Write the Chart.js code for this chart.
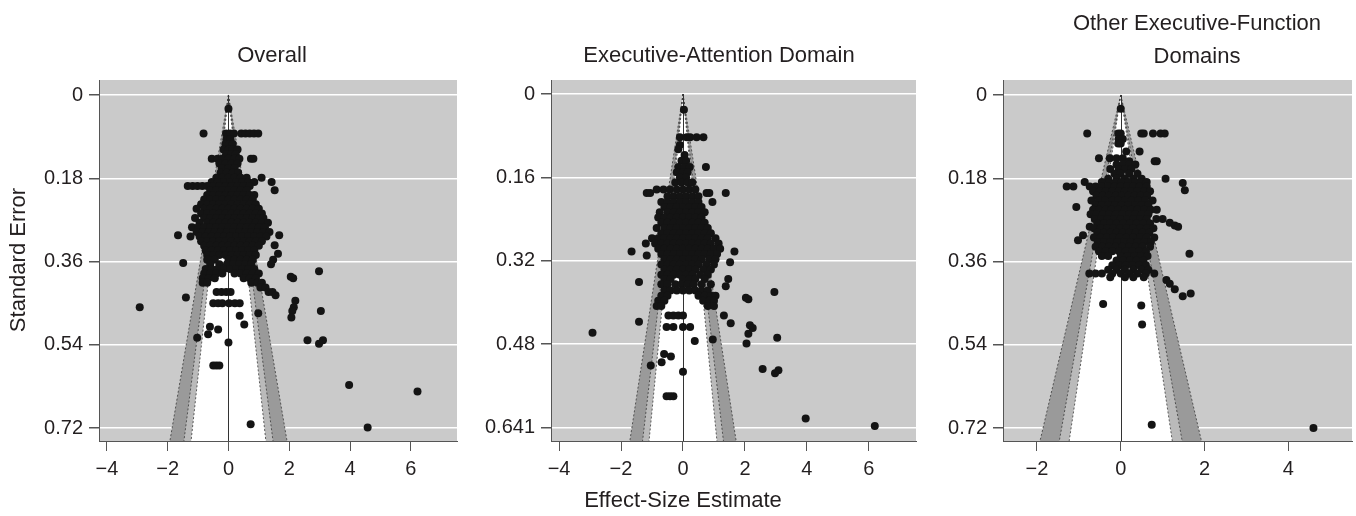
<!DOCTYPE html>
<html>
<head>
<meta charset="utf-8">
<script src="https://cdn.jsdelivr.net/npm/chart.js@4.4.1/dist/chart.umd.min.js"></script>
<style>
body{margin:0;width:1356px;height:516px;background:#fff;position:relative;overflow:hidden;font-family:"Liberation Sans",Arial,sans-serif;color:#231f20}
canvas{position:absolute;top:0}
.t{position:absolute;font-size:22px;text-align:center;width:400px;line-height:26px}
</style>
</head>
<body>
<canvas id="c1" width="470" height="516" style="left:0"></canvas>
<canvas id="c2" width="465" height="516" style="left:460px"></canvas>
<canvas id="c3" width="441" height="516" style="left:915px"></canvas>

<div class="t" style="left:72px;top:42px">Overall</div>
<div class="t" style="left:519px;top:42px">Executive-Attention Domain</div>
<div class="t" style="left:997px;top:6px;line-height:33px">Other Executive-Function<br>Domains</div>
<div class="t" style="left:-182px;top:247px;transform:rotate(-90deg)">Standard Error</div>
<div class="t" style="left:483px;top:487px">Effect-Size Estimate</div>

<script>
// rows: [standard error, effect sizes at that SE...]
const overallRows = [
  [0.030, 0],
  [0.083, -0.82, -0.08, 0.05, 0.18, 0.42, 0.56, 0.7, 0.84, 0.98],
  [0.095, -0.06, 0.06],
  [0.106, -0.1, 0.04, 0.14],
  [0.118, -0.16, 0.0, 0.14, 0.3],
  [0.128, -0.08, 0.1, 0.24],
  [0.138, -0.55, -0.36, -0.2, 0.0, 0.2, 0.36, 0.74, 0.82],
  [0.148, -0.3, -0.1, 0.1, 0.3],
  [0.158, -0.22, 0.0, 0.2],
  [0.168, -0.26, -0.06, 0.14, 0.32],
  [0.179, -0.4, -0.2, 0.0, 0.2, 0.4, 0.6, 1.09],
  [0.188, -0.55, -0.35, -0.15, 0.05, 0.25, 0.45, 0.65, 0.85, 1.42],
  [0.197, -1.34, -1.18, -1.02, -0.86, -0.7, -0.5, -0.3, -0.1, 0.1, 0.3, 0.5, 0.7],
  [0.206, -0.6, -0.4, -0.2, 0.0, 0.2, 0.4, 0.6, 1.52],
  [0.216, -0.7, -0.5, -0.3, -0.1, 0.1, 0.3, 0.5, 0.7, 0.85],
  [0.226, -0.8, -0.6, -0.4, -0.2, 0.0, 0.2, 0.4, 0.6, 0.8],
  [0.236, -0.9, -0.7, -0.5, -0.3, -0.1, 0.1, 0.3, 0.5, 0.7, 0.9],
  [0.246, -1.05, -0.8, -0.6, -0.4, -0.2, 0.0, 0.2, 0.4, 0.6, 0.8, 1.0],
  [0.256, -0.9, -0.7, -0.5, -0.3, -0.1, 0.1, 0.3, 0.5, 0.7, 0.9, 1.1],
  [0.266, -1.1, -0.8, -0.6, -0.4, -0.2, 0.0, 0.2, 0.4, 0.6, 0.8, 1.0, 1.15],
  [0.276, -0.95, -0.7, -0.5, -0.3, -0.1, 0.1, 0.3, 0.5, 0.7, 0.9, 1.1, 1.3],
  [0.286, -1.2, -1.0, -0.8, -0.6, -0.4, -0.2, 0.0, 0.2, 0.4, 0.6, 0.8, 1.0, 1.2],
  [0.296, -1.05, -0.85, -0.65, -0.45, -0.25, -0.05, 0.15, 0.35, 0.55, 0.75, 0.95, 1.15, 1.35],
  [0.303, -1.66, 1.67],
  [0.306, -1.25, -0.95, -0.75, -0.55, -0.35, -0.15, 0.05, 0.25, 0.45, 0.65, 0.85, 1.05, 1.25],
  [0.316, -0.9, -0.7, -0.5, -0.3, -0.1, 0.1, 0.3, 0.5, 0.7, 0.9, 1.1],
  [0.325, 1.52],
  [0.326, -0.8, -0.6, -0.4, -0.2, 0.0, 0.2, 0.4, 0.6, 0.8, 1.0],
  [0.336, -0.75, -0.55, -0.35, -0.15, 0.05, 0.25, 0.45, 0.65, 0.85],
  [0.343, 1.63],
  [0.346, -0.7, -0.5, -0.3, -0.1, 0.1, 0.3, 0.5, 0.7, 0.9],
  [0.356, -0.7, -0.45, 0.0, 0.2, 0.4, 0.6, 0.8, 1.47],
  [0.363, -1.49],
  [0.366, -0.6, -0.3, -0.05, 0.15, 0.35, 0.55, 0.75, 1.4],
  [0.376, -0.75, -0.55, -0.35, -0.15, 0.05, 0.25, 0.45, 0.65, 0.85],
  [0.381, 2.98],
  [0.386, -0.8, -0.6, -0.4, -0.2, 0.2, 0.4, 0.6, 0.8, 1.0],
  [0.393, 2.05],
  [0.396, -0.85, -0.65, -0.45, 0.5, 0.7, 0.9, 2.13],
  [0.406, -0.85, -0.7, 0.75, 0.95, 1.1],
  [0.416, 1.05, 1.22],
  [0.426, -0.39, -0.23, -0.07, 0.07, 1.32, 1.45],
  [0.433, 1.55],
  [0.438, -1.40],
  [0.445, 2.2],
  [0.450, -0.5, -0.34, -0.2, 0.02, 0.21, 0.37],
  [0.459, -2.92, 2.15],
  [0.467, 2.1, 3.04],
  [0.472, 0.98],
  [0.477, 0.37],
  [0.481, 2.07],
  [0.496, 0.52],
  [0.501, -0.61],
  [0.507, -0.34],
  [0.517, -0.67],
  [0.525, -1.03],
  [0.530, 2.6, 3.11],
  [0.535, 0.0],
  [0.538, 2.98],
  [0.585, -0.5, -0.4, -0.3],
  [0.627, 3.97],
  [0.641, 6.22],
  [0.712, 0.73],
  [0.719, 4.58]
];

const execRows = [
  [0.030, 0.03],
  [0.083, -0.1, 0.12, 0.23, 0.44, 0.66],
  [0.098, -0.1],
  [0.106, -0.15],
  [0.117, 0.05],
  [0.128, -0.05, 0.1],
  [0.140, -0.15, 0.05, 0.22, 0.74],
  [0.150, -0.2, 0.0, 0.15],
  [0.160, -0.1, 0.1],
  [0.170, -0.25, -0.05, 0.15, 0.3],
  [0.183, -0.85, -0.63, -0.42, -0.2, 0.0, 0.2, 0.4],
  [0.190, -1.17, -1.06, 0.76, 0.85, 1.38],
  [0.196, -0.5, -0.3, -0.1, 0.1, 0.3, 0.5],
  [0.207, -0.7, -0.5, -0.3, -0.1, 0.1, 0.3, 0.5, 0.95],
  [0.217, -0.6, -0.4, -0.2, 0.0, 0.2, 0.4, 0.6],
  [0.227, -0.75, -0.5, -0.3, -0.1, 0.1, 0.3, 0.5, 0.7],
  [0.237, -0.8, -0.6, -0.4, -0.2, 0.0, 0.2, 0.4, 0.6],
  [0.247, -0.7, -0.5, -0.3, -0.1, 0.1, 0.3, 0.5, 0.7],
  [0.257, -0.85, -0.6, -0.4, -0.2, 0.0, 0.2, 0.4, 0.6, 0.8],
  [0.267, -0.7, -0.5, -0.3, -0.1, 0.1, 0.3, 0.5, 0.7, 0.9],
  [0.277, -1.0, -0.8, -0.6, -0.4, -0.2, 0.0, 0.2, 0.4, 0.6, 0.8, 1.05],
  [0.287, -1.2, -0.9, -0.7, -0.5, -0.3, -0.1, 0.1, 0.3, 0.5, 0.7, 0.9, 1.15],
  [0.297, -0.8, -0.6, -0.4, -0.2, 0.0, 0.2, 0.4, 0.6, 0.8, 1.0, 1.2],
  [0.302, -1.66, 1.66],
  [0.307, -0.7, -0.5, -0.3, -0.1, 0.1, 0.3, 0.5, 0.7, 0.9, 1.1],
  [0.310, -1.17],
  [0.317, -0.6, -0.4, -0.2, 0.0, 0.2, 0.4, 0.6, 0.85, 1.05],
  [0.323, 1.52],
  [0.327, -0.7, -0.5, -0.3, -0.1, 0.1, 0.3, 0.5, 0.75, 1.0],
  [0.337, -0.6, -0.4, -0.2, 0.0, 0.2, 0.4, 0.65, 0.9],
  [0.347, -0.7, -0.5, -0.3, -0.1, 0.1, 0.3, 0.55, 0.8],
  [0.355, -0.6, -0.4, 0.0, 0.2, 0.4, 0.7, 1.46],
  [0.361, -1.42],
  [0.365, -0.7, -0.5, -0.25, -0.05, 0.15, 0.35, 0.6, 0.9],
  [0.369, 1.38],
  [0.377, -0.6, -0.4, -0.2, 0.0, 0.2, 0.4, 0.6, 0.8],
  [0.380, 2.95],
  [0.387, -0.7, -0.5, 0.5, 0.7, 0.9, 1.05],
  [0.391, 2.03],
  [0.394, 2.11],
  [0.397, -0.8, -0.6, 0.65, 0.85, 1.0],
  [0.407, -0.85, -0.7, 0.8, 1.0],
  [0.425, -0.47, -0.31, -0.15, 0.0, 1.32],
  [0.437, -1.42],
  [0.440, 1.54],
  [0.444, 2.16],
  [0.447, -0.53, -0.31, 0.0, 0.23],
  [0.449, 2.25],
  [0.458, -2.92],
  [0.460, 2.11],
  [0.468, 3.04],
  [0.471, 0.96],
  [0.474, 0.38],
  [0.479, 2.05],
  [0.499, -0.61],
  [0.504, -0.39],
  [0.515, -0.69],
  [0.521, -1.04],
  [0.528, 2.57],
  [0.530, 3.08],
  [0.533, 0.0],
  [0.536, 2.97],
  [0.580, -0.53, -0.42, -0.31],
  [0.623, 3.96],
  [0.637, 6.19]
];

const otherRows = [
  [0.030, 0],
  [0.083, -0.8, -0.06, 0.0, 0.49, 0.55, 0.77, 0.95, 1.05],
  [0.095, -0.05, 0.05],
  [0.105, -0.06, 0.0],
  [0.122, 0.13, 0.45],
  [0.137, -0.52, -0.26, -0.1, 0.05],
  [0.143, 0.2, 0.81, 0.86],
  [0.150, -0.1, 0.05, 0.2, 0.35],
  [0.160, -0.25, -0.05, 0.1, 0.25],
  [0.170, -0.15, 0.0, 0.2, 0.4],
  [0.181, -0.3, -0.1, 0.1, 0.3, 0.5, 1.07],
  [0.188, -0.86, -0.45, -0.28, -0.12, 0.02, 0.18, 0.34, 0.5, 0.62],
  [0.190, 1.48],
  [0.198, -1.29, -1.13, -0.74, -0.6, -0.44, -0.3, -0.15, 0.0, 0.15, 0.3, 0.45, 0.62],
  [0.206, 1.53],
  [0.208, -0.66, -0.5, -0.36, -0.2, -0.05, 0.1, 0.25, 0.4, 0.56, 0.7],
  [0.218, -0.58, -0.43, -0.28, -0.12, 0.03, 0.18, 0.33, 0.48, 0.63],
  [0.228, -0.7, -0.52, -0.37, -0.2, -0.06, 0.1, 0.26, 0.42, 0.58, 0.76],
  [0.238, -0.6, -0.45, -0.3, -0.14, 0.02, 0.18, 0.34, 0.5, 0.66],
  [0.242, -1.06],
  [0.248, -0.66, -0.52, -0.36, -0.22, -0.06, 0.1, 0.25, 0.4, 0.56, 0.72, 0.86],
  [0.258, -0.72, -0.58, -0.43, -0.28, -0.12, 0.04, 0.2, 0.35, 0.5, 0.66],
  [0.268, -0.62, -0.47, -0.32, -0.16, 0.0, 0.15, 0.3, 0.46, 0.62, 0.85, 1.0],
  [0.276, 1.17],
  [0.278, -0.56, -0.4, -0.25, -0.1, 0.06, 0.22, 0.38, 0.54, 0.7],
  [0.282, 1.29],
  [0.285, -0.74, 1.37],
  [0.288, -0.64, -0.48, -0.32, -0.18, -0.02, 0.14, 0.3, 0.46, 0.62, 0.78],
  [0.298, -0.56, -0.4, -0.25, -0.1, 0.05, 0.2, 0.36, 0.52, 0.68],
  [0.303, -0.9],
  [0.308, -0.64, -0.48, -0.33, -0.18, -0.02, 0.14, 0.3, 0.46, 0.62, 0.8],
  [0.314, -1.02],
  [0.318, -0.55, -0.4, -0.25, -0.08, 0.08, 0.24, 0.4, 0.56, 0.72],
  [0.328, -0.6, -0.44, -0.28, -0.12, 0.04, 0.2, 0.36, 0.52, 0.7],
  [0.338, -0.52, -0.36, -0.2, -0.04, 0.12, 0.28, 0.44, 0.6],
  [0.343, 1.64],
  [0.348, -0.45, -0.3, 0.0, 0.16, 0.32, 0.48, 0.64],
  [0.358, -0.1, 0.06, 0.22, 0.38, 0.54],
  [0.368, -0.2, -0.04, 0.12, 0.28, 0.44, 0.6],
  [0.378, -0.3, -0.1, 0.1, 0.3, 0.5, 0.66],
  [0.386, -0.75, -0.6, -0.45, -0.2, 0.0, 0.2, 0.4, 0.6, 0.8],
  [0.394, -0.25, 0.1, 0.3, 0.55],
  [0.400, 1.09],
  [0.408, 1.17],
  [0.420, 1.29],
  [0.429, 1.67],
  [0.435, 1.48],
  [0.452, -0.42],
  [0.455, 0.49],
  [0.496, 0.51],
  [0.713, 0.74],
  [0.720, 4.6]
];

const xTicksWide = [-4, -2, 0, 2, 4, 6];
const xTicksNarrow = [-2, 0, 2, 4];
const yTicksOverall = [0, 0.18, 0.36, 0.54, 0.72];
const yTicksExec = [0, 0.16, 0.32, 0.48, 0.641];
const contourZ = [2.576, 1.96, 1.645];   // p = .01, .05, .10
const contourFill = ['#9a9a9a', '#bababa', '#ffffff'];

const toPoints = rows => rows.flatMap(([se, ...xs]) => xs.map(x => ({x: x, y: se})));
const fmt = v => v < 0 ? '\u2212' + (-v) : String(v);

function panel(id, rows, xr, xTicks, yr, yTicks, yWidth, padRight) {
  const funnel = {
    id: 'funnel' + id,
    beforeDraw(chart) {
      const a = chart.chartArea, c = chart.ctx;
      c.save();
      c.fillStyle = '#cacaca';
      c.fillRect(a.left, a.top, a.right - a.left, a.bottom - a.top);
      c.restore();
    },
    beforeDatasetsDraw(chart) {
      const c = chart.ctx, sx = chart.scales.x, sy = chart.scales.y;
      const seMax = sy.max;
      const apx = sx.getPixelForValue(0), apy = sy.getPixelForValue(0), by = sy.getPixelForValue(seMax);
      c.save();
      contourZ.forEach((z, i) => {
        c.beginPath();
        c.moveTo(apx, apy);
        c.lineTo(sx.getPixelForValue(-z * seMax), by);
        c.lineTo(sx.getPixelForValue(z * seMax), by);
        c.closePath();
        c.fillStyle = contourFill[i];
        c.fill();
      });
      c.setLineDash([2, 2]);
      c.strokeStyle = '#3a3a3a';
      c.lineWidth = 0.8;
      contourZ.forEach(z => {
        [-1, 1].forEach(s => {
          c.beginPath();
          c.moveTo(apx, apy);
          c.lineTo(sx.getPixelForValue(s * z * seMax), by);
          c.stroke();
        });
      });
      c.setLineDash([]);
      c.strokeStyle = '#333';
      c.lineWidth = 1;
      c.beginPath();
      c.moveTo(Math.round(apx) + 0.5, apy);
      c.lineTo(Math.round(apx) + 0.5, by);
      c.stroke();
      c.restore();
    }
  };

  return new Chart(document.getElementById(id), {
    type: 'scatter',
    data: {
      datasets: [{
        data: toPoints(rows),
        backgroundColor: '#141414',
        borderWidth: 0,
        pointRadius: 4,
        pointHoverRadius: 4
      }]
    },
    options: {
      responsive: false,
      animation: false,
      events: [],
      layout: {padding: {top: 80, right: padRight, bottom: 35, left: 0}},
      plugins: {legend: {display: false}, tooltip: {enabled: false}},
      scales: {
        x: {
          type: 'linear',
          min: xr[0], max: xr[1],
          afterBuildTicks: s => { s.ticks = xTicks.map(v => ({value: v})); },
          afterFit: s => { s.height = 40; },
          grid: {drawOnChartArea: false, drawTicks: true, tickLength: 10, tickColor: '#555'},
          border: {color: '#555', width: 1},
          ticks: {padding: 6, color: '#231f20', font: {family: 'Liberation Sans', size: 20}, callback: fmt, maxRotation: 0}
        },
        y: {
          type: 'linear',
          reverse: true,
          min: yr[0], max: yr[1],
          afterBuildTicks: s => { s.ticks = yTicks.map(v => ({value: v})); },
          afterFit: s => { s.width = yWidth; },
          grid: {color: '#ffffff', lineWidth: 1.5, tickLength: 10, tickColor: '#555'},
          border: {color: '#555', width: 1},
          ticks: {padding: 6, color: '#231f20', font: {family: 'Liberation Sans', size: 20}, callback: v => String(v)}
        }
      }
    },
    plugins: [funnel]
  });
}

panel('c1', overallRows, [-4.26, 7.52], xTicksWide, [-0.0324, 0.748], yTicksOverall, 99, 13);
panel('c2', execRows, [-4.26, 7.52], xTicksWide, [-0.027, 0.666], yTicksExec, 91, 9);
panel('c3', otherRows, [-2.81, 5.52], xTicksNarrow, [-0.0324, 0.748], yTicksOverall, 88, 3);
</script>
</body>
</html>
